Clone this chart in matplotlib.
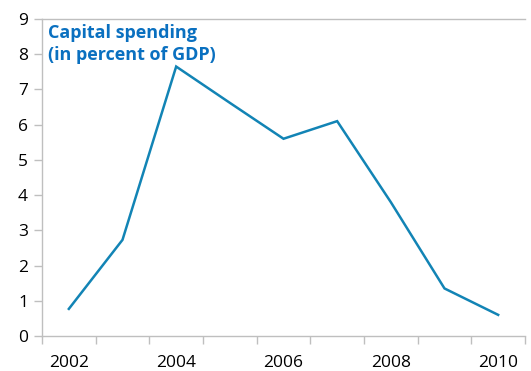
import matplotlib
matplotlib.use('Agg')
import matplotlib.pyplot as plt
import numpy as np

# data
years = [2002, 2003, 2004, 2005, 2006, 2007, 2008, 2009, 2010]
spending = [0.77, 2.73, 7.65, 6.62, 5.6, 6.1, 3.8, 1.35, 0.6]

LINE_COLOR = '#1284b5'
TITLE_COLOR = '#0a70c0'
AXIS_COLOR = '#bfbfbf'

plt.rcParams['font.family'] = ['Open Sans', 'DejaVu Sans']

fig = plt.figure(figsize=(5.31, 3.71), dpi=100)
axis = fig.add_axes([42/531, 35/371, 483/531, 317/371])

xpos = np.arange(len(years))
axis.plot(xpos, spending, color=LINE_COLOR, linewidth=1.8, solid_joinstyle='miter')

axis.set_xlim(-0.5, len(years) - 0.5)
axis.set_ylim(0, 9)

# category axis: labels every other year, marks between categories
axis.set_xticks(xpos[::2])
axis.set_xticklabels([str(y) for y in years[::2]])
axis.set_xticks(np.arange(-0.5, len(years)), minor=True)
axis.tick_params(axis='x', which='major', length=0, pad=14, labelsize=12.5)
axis.tick_params(axis='x', which='minor', length=6, color=AXIS_COLOR, width=1)
axis.set_yticks(range(0, 10))
axis.tick_params(axis='y', length=6, color=AXIS_COLOR, width=1, pad=4, labelsize=12.5)

axis.spines['right'].set_visible(False)
for side in ['left', 'bottom', 'top']:
    axis.spines[side].set_color(AXIS_COLOR)
    axis.spines[side].set_linewidth(1)

axis.text(0.012, 0.985, 'Capital spending\n(in percent of GDP)',
          transform=axis.transAxes, ha='left', va='top',
          fontsize=13, fontweight='bold', color=TITLE_COLOR, linespacing=1.3)

fig.savefig('out.png', dpi=100)
